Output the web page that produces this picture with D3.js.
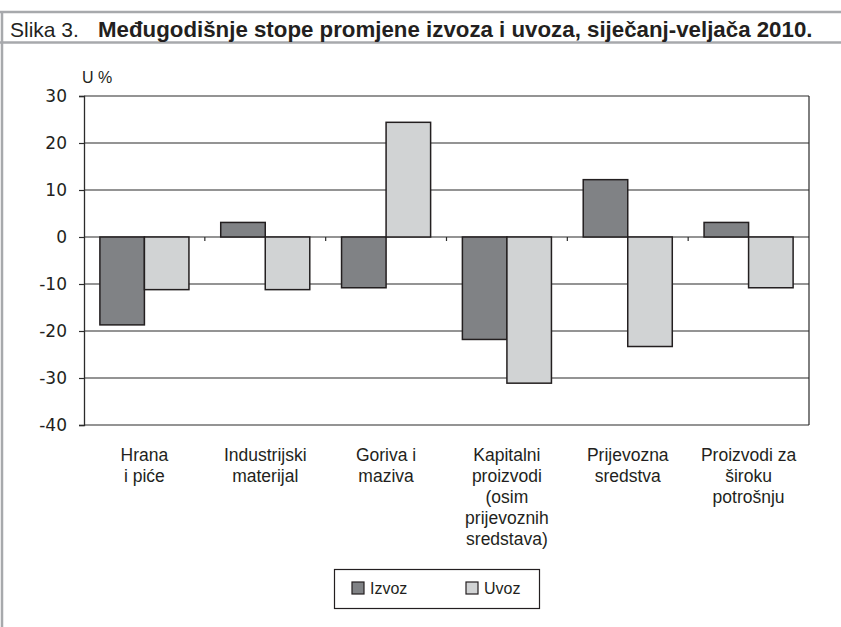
<!DOCTYPE html>
<html>
<head>
<meta charset="utf-8">
<script src="https://cdn.jsdelivr.net/npm/d3@7"></script>
<style>
  body { margin: 0; background: #fff; }
  svg text { font-family: "Liberation Sans", Arial, sans-serif; fill: #231f20; }
</style>
</head>
<body>
<div class="container"></div>
<script>
const categories = ["Hrana\ni piće", "Industrijski\nmaterijal", "Goriva i\nmaziva",
                    "Kapitalni\nproizvodi\n(osim\nprijevoznih\nsredstava)",
                    "Prijevozna\nsredstva", "Proizvodi za\nširoku\npotrošnju"]
const seriesNames = ["Izvoz", "Uvoz"]
const izvoz = [-18.7, 3.1, -10.8, -21.8, 12.2, 3.1]
const uvoz = [-11.2, -11.2, 24.4, -31.1, -23.3, -10.8]
const yTicks = [30, 20, 10, 0, -10, -20, -30, -40]
const colors = ["#808285", "#d1d3d4"]

const svg = d3.select(".container")
              .append("svg")
              .attr("width", 841)
              .attr("height", 627)

// frame
svg.append("line").attr("x1", 0).attr("x2", 841).attr("y1", 12).attr("y2", 12)
   .attr("stroke", "#a7a9ac").attr("stroke-width", 2.5)
svg.append("line").attr("x1", 0).attr("x2", 841).attr("y1", 42.5).attr("y2", 42.5)
   .attr("stroke", "#a7a9ac").attr("stroke-width", 2.5)
svg.append("line").attr("x1", 2).attr("x2", 2).attr("y1", 11).attr("y2", 627)
   .attr("stroke", "#a7a9ac").attr("stroke-width", 2.5)

// title
const title = svg.append("text").attr("x", 10).attr("y", 36.5)
title.append("tspan").style("font-size", "21px").text("Slika 3.")
const tb = title.append("tspan").attr("x", 98)
                .style("font-weight", "bold").style("font-size", "20px")
                .text("Međugodišnje stope promjene izvoza i uvoza, siječanj-veljača 2010.")
const w = tb.node().getComputedTextLength()
tb.style("font-size", (20 * 715 / w) + "px")

const y = d3.scaleLinear().domain([-40, 30]).range([425, 96])
const x0 = d3.scaleBand().domain(categories).range([84, 809])
             .paddingInner(0.263).paddingOuter(0.1315)
const x1 = d3.scaleBand().domain(seriesNames).range([0, x0.bandwidth()])

// grid
svg.append("g").selectAll("line").data(yTicks).enter().append("line")
   .attr("x1", 84).attr("x2", 809)
   .attr("y1", d => y(d)).attr("y2", d => y(d))
   .attr("stroke", "#2b2b2b").attr("stroke-width", 1.2)
svg.append("line").attr("x1", 809).attr("x2", 809).attr("y1", y(30)).attr("y2", y(-40))
   .attr("stroke", "#2b2b2b").attr("stroke-width", 1.2)

// y axis
const yAxis = svg.append("g").attr("transform", "translate(84,0)")
                 .call(d3.axisLeft(y).tickValues(yTicks).tickSize(5).tickPadding(12)
                         .tickFormat(d => String(d)))
yAxis.select(".domain").attr("stroke", "#2b2b2b").attr("stroke-width", 1.3)
yAxis.selectAll(".tick line").attr("stroke", "#2b2b2b").attr("stroke-width", 1.2)
yAxis.selectAll(".tick text")
     .style("font-family", "'DejaVu Sans', sans-serif").style("font-size", "17px").attr("fill", "#231f20")

svg.append("text").attr("x", 82).attr("y", 83).style("font-size", "16px").text("U %")

// x ticks at category boundaries
const bounds = categories.slice(1).map(c => x0(c) - x0.step() * x0.paddingInner() / 2)
svg.append("g").selectAll("line").data(bounds).enter().append("line")
   .attr("x1", d => d).attr("x2", d => d)
   .attr("y1", y(0)).attr("y2", y(0) + 4)
   .attr("stroke", "#2b2b2b").attr("stroke-width", 1.2)

// bars
const rows = categories.map((c, i) => ({cat: c, vals: [izvoz[i], uvoz[i]]}))
const groups = svg.append("g").selectAll("g").data(rows).enter().append("g")
                  .attr("transform", d => "translate(" + x0(d.cat) + ",0)")
groups.selectAll("rect").data(d => d.vals.map((v, j) => ({key: seriesNames[j], v: v, j: j})))
      .enter().append("rect")
      .attr("x", d => x1(d.key))
      .attr("width", x1.bandwidth())
      .attr("y", d => y(Math.max(0, d.v)))
      .attr("height", d => Math.abs(y(d.v) - y(0)))
      .attr("fill", d => colors[d.j])
      .attr("stroke", "#231f20").attr("stroke-width", 1.5)

// category labels
const lab = svg.append("g").selectAll("text").data(categories).enter().append("text")
               .attr("text-anchor", "middle")
               .style("font-size", "17.5px")
lab.selectAll("tspan").data(d => d.split("\n").map(s => ({s: s, c: d})))
   .enter().append("tspan")
   .attr("x", d => x0(d.c) + x0.bandwidth() / 2)
   .attr("y", (d, i) => 461 + i * 21)
   .text(d => d.s)

// legend
svg.append("rect").attr("x", 334.5).attr("y", 569.5).attr("width", 205).attr("height", 39)
   .attr("fill", "#fff").attr("stroke", "#231f20").attr("stroke-width", 1.2)
const leg = svg.append("g").selectAll("g").data(seriesNames).enter().append("g")
               .attr("transform", (d, i) => "translate(" + (352 + i * 114) + ",582)")
leg.append("rect").attr("width", 12).attr("height", 12)
   .attr("fill", (d, i) => colors[i]).attr("stroke", "#231f20").attr("stroke-width", 1.2)
leg.append("text").attr("x", 18).attr("y", 12).style("font-size", "16px").text(d => d)
</script>
</body>
</html>
